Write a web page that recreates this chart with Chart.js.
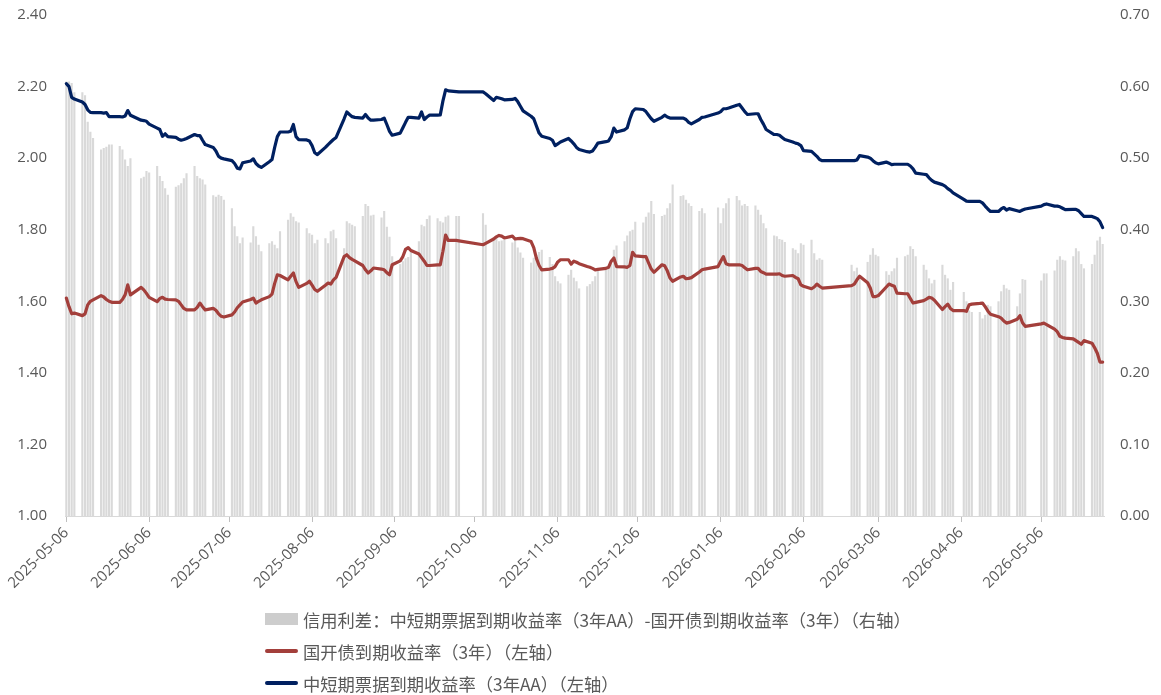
<!DOCTYPE html>
<html>
<head>
<meta charset="utf-8">
<script src="https://cdn.jsdelivr.net/npm/chart.js@4.4.1/dist/chart.umd.min.js"></script>
<style>
  html, body { margin: 0; padding: 0; background: #ffffff; }
  #wrap { position: relative; width: 1161px; height: 695px; overflow: hidden; }
  #legend { position: absolute; left: 265px; top: 603px; font-family: "Noto Sans CJK SC", "Noto Sans", sans-serif; font-size: 17.3px; color: #595959; }
  .row { height: 32px; display: flex; align-items: center; white-space: nowrap; }
  .sym { width: 33px; margin-right: 5px; flex: none; }
  .box { height: 12px; }
  .ln { height: 3.5px; border-radius: 2px; }
  #warn { position: absolute; left: 10px; top: 10px; color: red; font: 14px sans-serif; }
</style>
</head>
<body>
<div id="wrap">
  <canvas id="c" width="1161" height="695"></canvas>
  <div id="legend"></div>
  <div id="warn"></div>
</div>
<script>
// ---------- data ----------
const firstDay = '2025-05-06';
const lastDay = '2026-05-29';
// market holidays falling on weekdays (no data)
const holidays = ['2025-06-02',
  '2025-10-01','2025-10-02','2025-10-03','2025-10-06','2025-10-07','2025-10-08',
  '2026-01-01','2026-01-02',
  '2026-02-16','2026-02-17','2026-02-18','2026-02-19','2026-02-20','2026-02-23',
  '2026-04-06','2026-05-01','2026-05-04','2026-05-05'];
const tickDates = ['2025-05-06','2025-06-06','2025-07-06','2025-08-06','2025-09-06','2025-10-06',
  '2025-11-06','2025-12-06','2026-01-06','2026-02-06','2026-03-06','2026-04-06','2026-05-06'];
const seriesNames = ['信用利差：中短期票据到期收益率（3年AA）-国开债到期收益率（3年）（右轴）',
  '国开债到期收益率（3年）（左轴）',
  '中短期票据到期收益率（3年AA）（左轴）'];
const leftTicks = [1.0, 2.4, 0.2];
const rightTicks = [0.0, 0.7, 0.1];

// 中短期票据到期收益率（3年AA）, one value per trading day
const aaYield = [
  2.208,2.200,2.170,2.165,
  2.157,2.150,2.135,2.128,2.127,
  2.127,2.126,2.127,2.116,2.116,
  2.116,2.115,2.118,2.133,2.120,
  2.106,2.105,2.103,2.095,
  2.084,2.080,2.061,2.068,2.060,
  2.058,2.053,2.050,2.052,2.055,
  2.066,2.063,2.063,2.050,2.038,
  2.030,2.020,2.005,2.000,1.998,
  1.993,1.985,1.972,1.970,1.987,
  1.992,1.998,1.985,1.978,1.974,
  1.990,1.996,2.030,2.060,2.073,
  2.073,2.075,2.094,2.060,2.052,
  2.051,2.048,2.035,2.015,2.010,
  2.030,2.038,2.045,2.052,2.058,
  2.110,2.129,2.122,2.116,2.114,
  2.112,2.122,2.112,2.106,2.106,
  2.108,2.112,2.094,2.075,2.064,
  2.070,2.085,2.100,2.114,2.114,
  2.112,2.129,2.108,2.115,2.120,
  2.120,2.121,2.160,2.191,2.188,
  2.186,2.185,
  2.185,2.180,
  2.161,2.170,2.168,2.166,2.163,
  2.164,2.167,2.158,2.145,2.132,
  2.117,2.110,2.090,2.070,2.061,
  2.055,2.050,2.035,2.040,2.045,
  2.055,2.048,2.040,2.030,2.024,
  2.018,2.017,2.020,2.030,2.042,
  2.046,2.048,2.060,2.084,2.073,
  2.079,2.085,2.110,2.130,2.138,
  2.136,2.130,2.120,2.110,2.103,
  2.114,2.120,2.115,2.112,2.112,
  2.112,2.112,2.108,2.100,2.096,
  2.108,2.114,2.115,
  2.126,2.130,2.138,2.138,2.140,
  2.148,2.150,2.140,2.130,2.122,
  2.124,2.124,2.108,2.095,2.080,
  2.066,2.066,2.064,2.058,2.052,
  2.045,2.042,2.040,2.035,2.021,
  2.019,2.012,2.005,1.996,1.993,
  1.993,1.993,1.995,2.007,
  2.003,2.000,1.993,1.987,1.984,
  1.989,1.986,1.982,1.983,1.983,
  1.983,1.983,1.978,1.970,1.958,
  1.955,1.954,1.945,1.938,1.933,
  1.926,1.922,1.915,1.910,1.903,
  1.885,1.880,1.879,1.879,
  1.879,1.875,1.866,1.858,1.851,
  1.851,1.858,1.862,1.855,1.859,
  1.853,1.851,1.855,1.858,
  1.866,1.870,1.872,
  1.866,1.866,1.864,1.860,1.856,
  1.857,1.857,1.853,1.845,1.837,
  1.837,1.834,1.831,1.822,1.806
];

// 国开债到期收益率（3年）
const cdbYield = [
  1.609,1.585,1.565,1.567,
  1.560,1.565,1.590,1.600,1.604,
  1.616,1.612,1.605,1.600,1.597,
  1.597,1.605,1.618,1.646,1.618,
  1.639,1.632,1.622,1.611,
  1.599,1.608,1.611,1.606,1.605,
  1.604,1.600,1.590,1.580,1.576,
  1.576,1.583,1.595,1.585,1.576,
  1.580,1.575,1.565,1.558,1.556,
  1.562,1.570,1.582,1.590,1.598,
  1.605,1.609,1.595,1.600,1.604,
  1.613,1.620,1.650,1.674,1.672,
  1.660,1.670,1.679,1.655,1.639,
  1.650,1.656,1.645,1.633,1.628,
  1.645,1.651,1.648,1.660,1.667,
  1.725,1.730,1.722,1.717,1.713,
  1.700,1.688,1.679,1.685,1.693,
  1.690,1.688,1.680,1.674,1.702,
  1.713,1.725,1.745,1.750,1.742,
  1.732,1.722,1.712,1.700,1.700,
  1.702,1.702,1.740,1.785,1.770,
  1.770,1.769,
  1.758,1.762,
  1.774,1.780,1.784,1.782,1.777,
  1.782,1.774,1.775,1.776,1.775,
  1.767,1.750,1.720,1.700,1.688,
  1.690,1.692,1.697,1.710,1.716,
  1.716,1.704,1.712,1.709,1.705,
  1.697,1.695,1.692,1.688,1.689,
  1.692,1.695,1.712,1.721,1.697,
  1.696,1.695,1.700,1.737,1.727,
  1.725,1.725,1.707,1.690,1.681,
  1.702,1.699,1.685,1.665,1.656,
  1.668,1.670,1.663,1.664,1.666,
  1.682,1.688,1.690,
  1.697,1.712,1.725,1.705,1.702,
  1.702,1.702,1.700,1.694,1.688,
  1.692,1.692,1.683,1.680,1.676,
  1.676,1.676,1.677,1.672,1.670,
  1.672,1.667,1.663,1.646,1.642,
  1.635,1.640,1.648,1.642,1.637,
  1.644,1.648,1.660,1.670,
  1.652,1.637,1.613,1.613,1.616,
  1.640,1.648,1.645,1.642,1.623,
  1.621,1.621,1.608,1.595,1.597,
  1.602,1.606,1.611,1.609,1.603,
  1.577,1.585,1.592,1.580,1.574,
  1.574,1.572,1.590,1.592,
  1.594,1.595,1.585,1.573,1.564,
  1.557,1.553,1.545,1.539,1.541,
  1.550,1.560,1.540,1.530,
  1.537,1.539,1.535,
  1.522,1.515,1.502,1.499,1.497,
  1.495,1.490,1.485,1.480,1.490,
  1.483,1.470,1.455,1.430,1.430
];

// 信用利差（右轴）
const spread = [
  0.607,0.607,0.605,0.592,
  0.592,0.588,0.551,0.537,0.528,
  0.512,0.514,0.516,0.519,0.519,
  0.517,0.512,0.498,0.489,0.500,
  0.472,0.474,0.482,0.480,
  0.489,0.475,0.468,0.458,0.449,
  0.460,0.462,0.465,0.472,0.479,
  0.489,0.475,0.472,0.470,0.463,
  0.448,0.446,0.449,0.447,0.442,
  0.430,0.405,0.391,0.381,0.389,
  0.382,0.405,0.391,0.379,0.370,
  0.381,0.384,0.379,0.374,0.398,
  0.414,0.423,0.418,0.412,0.410,
  0.402,0.395,0.393,0.381,0.386,
  0.388,0.381,0.398,0.400,0.388,
  0.374,0.412,0.409,0.407,0.405,
  0.419,0.436,0.433,0.420,0.421,
  0.417,0.426,0.404,0.390,0.363,
  0.352,0.356,0.360,0.362,0.370,
  0.384,0.407,0.405,0.415,0.420,
  0.416,0.412,0.410,0.418,0.420,
  0.419,0.419,
  0.423,0.407,
  0.386,0.390,0.384,0.385,0.386,
  0.382,0.389,0.375,0.368,0.361,
  0.354,0.361,0.365,0.369,0.372,
  0.362,0.352,0.335,0.328,0.325,
  0.337,0.344,0.333,0.328,0.318,
  0.321,0.324,0.328,0.335,0.345,
  0.345,0.348,0.352,0.372,0.378,
  0.384,0.392,0.398,0.400,0.411,
  0.410,0.418,0.424,0.440,0.422,
  0.419,0.421,0.430,0.437,0.463,
  0.447,0.448,0.442,0.437,0.433,
  0.426,0.430,0.423,
  0.431,0.409,0.430,0.437,0.444,
  0.447,0.441,0.434,0.436,0.433,
  0.434,0.428,0.421,0.409,0.402,
  0.392,0.391,0.387,0.386,0.383,
  0.374,0.372,0.367,0.381,0.379,
  0.386,0.367,0.358,0.360,0.358,
  0.351,0.342,0.347,0.335,
  0.355,0.365,0.374,0.365,0.363,
  0.342,0.337,0.342,0.346,0.361,
  0.363,0.365,0.377,0.373,0.363,
  0.351,0.344,0.332,0.325,0.330,
  0.351,0.337,0.332,0.316,0.327,
  0.313,0.300,0.287,0.285,
  0.285,0.276,0.281,0.295,0.293,
  0.300,0.314,0.323,0.318,0.316,
  0.293,0.311,0.331,0.330,
  0.329,0.339,0.339,
  0.343,0.358,0.363,0.358,0.357,
  0.363,0.374,0.370,0.352,0.346,
  0.352,0.365,0.385,0.390,0.380
];

// ---------- build calendar axis ----------
const calendar = [];
{
  const [y0, m0, d0] = firstDay.split('-').map(Number);
  const [y1, m1, d1] = lastDay.split('-').map(Number);
  for (let t = Date.UTC(y0, m0 - 1, d0); t <= Date.UTC(y1, m1 - 1, d1); t += 86400000) {
    calendar.push(new Date(t).toISOString().slice(0, 10));
  }
}
const tradingDays = calendar.filter(s => {
  const wd = new Date(s + 'T00:00:00Z').getUTCDay();
  return wd !== 0 && wd !== 6 && !holidays.includes(s);
});
if (tradingDays.length !== aaYield.length || aaYield.length !== cdbYield.length || cdbYield.length !== spread.length) {
  document.getElementById('warn').textContent = 'length mismatch ' + tradingDays.length + ' ' + aaYield.length + ' ' + cdbYield.length + ' ' + spread.length;
}
function onCalendar(values) {
  const map = {};
  tradingDays.forEach((d, i) => { map[d] = values[i]; });
  return calendar.map(d => (d in map ? map[d] : null));
}

// ---------- legend ----------
const legendSymbols = [
  '<div class="sym box" style="background:#CDCDCD"></div>',
  '<div class="sym ln" style="background:#A33F3B"></div>',
  '<div class="sym ln" style="background:#002060"></div>'
];
document.getElementById('legend').innerHTML = seriesNames.map((n, i) =>
  '<div class="row">' + legendSymbols[i] + '<span>' + n + '</span></div>').join('');

// ---------- chart ----------
const tickFont = { family: '"Open Sans", "Liberation Sans", sans-serif', size: 15 };
new Chart(document.getElementById('c'), {
  type: 'bar',
  data: {
    labels: calendar,
    datasets: [
      { type: 'line', label: seriesNames[2], data: onCalendar(aaYield), yAxisID: 'y',
        borderColor: '#002060', borderWidth: 3.2, pointRadius: 0, tension: 0, spanGaps: true,
        borderJoinStyle: 'round', borderCapStyle: 'round' },
      { type: 'line', label: seriesNames[1], data: onCalendar(cdbYield), yAxisID: 'y',
        borderColor: '#A33F3B', borderWidth: 3.2, pointRadius: 0, tension: 0, spanGaps: true,
        borderJoinStyle: 'round', borderCapStyle: 'round' },
      { type: 'bar', label: seriesNames[0], data: onCalendar(spread), yAxisID: 'y1',
        backgroundColor: '#D9D9D9', borderWidth: 0, barPercentage: 0.8, categoryPercentage: 1.0 }
    ]
  },
  options: {
    responsive: false,
    animation: false,
    devicePixelRatio: 1,
    layout: { padding: { top: 15, right: 0, bottom: 0, left: 0 } },
    plugins: { legend: { display: false }, tooltip: { enabled: false } },
    scales: {
      x: {
        type: 'category',
        offset: true,
        grid: { display: true, drawOnChartArea: false, offset: false, tickLength: 6, color: '#BFBFBF' },
        border: { display: true, color: '#D9D9D9', width: 1 },
        ticks: { autoSkip: false, maxRotation: 45, minRotation: 45, padding: 2, color: '#595959', font: tickFont },
        afterBuildTicks: s => { s.ticks = s.ticks.filter(t => tickDates.includes(calendar[t.value])); },
        afterFit: s => { s.height = 179; }
      },
      y: {
        position: 'left', min: leftTicks[0], max: leftTicks[1],
        ticks: { stepSize: leftTicks[2], callback: v => Number(v).toFixed(2), color: '#595959', font: tickFont, padding: 18 },
        grid: { display: false, drawTicks: false },
        border: { display: false },
        afterFit: s => { s.width = 65; s.paddingTop = 0; s.paddingBottom = 0; }
      },
      y1: {
        position: 'right', min: rightTicks[0], max: rightTicks[1],
        ticks: { stepSize: rightTicks[2], callback: v => Number(v).toFixed(2), color: '#595959', font: tickFont, padding: 16 },
        grid: { display: false, drawTicks: false },
        border: { display: false },
        afterFit: s => { s.width = 57; s.paddingTop = 0; s.paddingBottom = 0; }
      }
    }
  }
});
</script>
</body>
</html>
